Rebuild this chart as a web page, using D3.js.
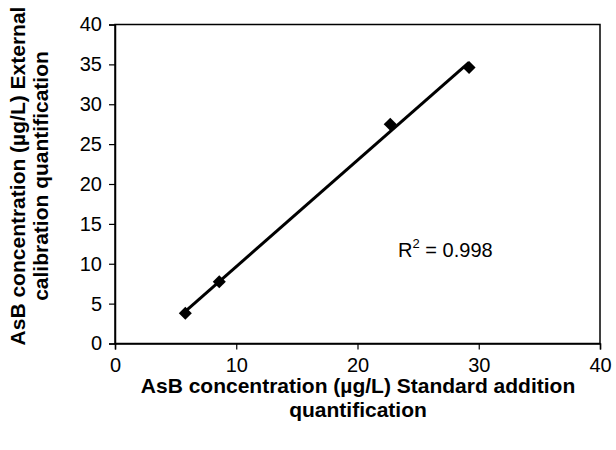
<!DOCTYPE html>
<html>
<head>
<meta charset="utf-8">
<script src="https://cdn.jsdelivr.net/npm/d3@7"></script>
<style>
  body { margin: 0; background: #fff; }
  text { font-family: "Liberation Sans", Arial, sans-serif; }
</style>
</head>
<body>
<div id="chart"></div>
<script>
// data
const standardAddition = [5.8, 8.6, 22.7, 29.2];
const externalCalib = [3.8, 7.75, 27.5, 34.6];
const xTicks = [0, 10, 20, 30, 40];
const yTicks = [0, 5, 10, 15, 20, 25, 30, 35, 40];
const r2Label = "0.998";

const width = 616, height = 450;
const margin = {top: 24.5, right: 16, bottom: 106.5, left: 115};

const svg = d3.select("#chart").append("svg")
    .attr("width", width)
    .attr("height", height);

const x = d3.scaleLinear().domain([0, 40]).range([margin.left, width - margin.right]);
const y = d3.scaleLinear().domain([0, 40]).range([height - margin.bottom, margin.top]);

// frame
svg.append("rect")
    .attr("x", x(0)).attr("y", y(40))
    .attr("width", x(40) - x(0)).attr("height", y(0) - y(40))
    .attr("fill", "none").attr("stroke", "#000").attr("stroke-width", 1.5);

// axes
const xAxis = svg.append("g")
    .attr("transform", `translate(0,${y(0)})`)
    .call(d3.axisBottom(x).tickValues(xTicks).tickSize(6).tickPadding(8));
const yAxis = svg.append("g")
    .attr("transform", `translate(${x(0)},0)`)
    .call(d3.axisLeft(y).tickValues(yTicks).tickSize(6).tickPadding(7));

[xAxis, yAxis].forEach(g => {
  g.select(".domain").attr("stroke-width", 1.5);
  g.selectAll(".tick line").attr("stroke-width", 1.2);
  g.selectAll(".tick text").attr("font-size", 20).attr("font-family", "Liberation Sans, Arial, sans-serif").attr("fill", "#000");
});

// trendline (least squares through the points)
const n = standardAddition.length;
const mx = d3.mean(standardAddition), my = d3.mean(externalCalib);
let sxy = 0, sxx = 0;
for (let i = 0; i < n; i++) {
  sxy += (standardAddition[i] - mx) * (externalCalib[i] - my);
  sxx += (standardAddition[i] - mx) ** 2;
}
const slope = sxy / sxx, intercept = my - slope * mx;
const x0 = d3.min(standardAddition), x1 = d3.max(standardAddition);

svg.append("line")
    .attr("x1", x(x0)).attr("y1", y(intercept + slope * x0))
    .attr("x2", x(x1)).attr("y2", y(intercept + slope * x1))
    .attr("stroke", "#000").attr("stroke-width", 3);

// diamond markers
svg.selectAll("path.pt")
  .data(standardAddition.map((v, i) => [v, externalCalib[i]]))
  .enter().append("path")
    .attr("class", "pt")
    .attr("d", d3.symbol().type(d3.symbolSquare).size(85))
    .attr("transform", d => `translate(${x(d[0])},${y(d[1])}) rotate(45)`)
    .attr("fill", "#000");

// R² label
const r2 = svg.append("text")
    .attr("x", x(23.35)).attr("y", y(10.85))
    .attr("font-size", 20).attr("fill", "#000");
r2.append("tspan").text("R");
r2.append("tspan").attr("font-size", 13).attr("dy", -9).text("2");
r2.append("tspan").attr("dy", 9).text(" = " + r2Label);

// axis titles
const xt = svg.append("text")
    .attr("text-anchor", "middle")
    .attr("font-size", 21).attr("font-weight", "bold").attr("fill", "#000");
xt.append("tspan").attr("x", 358).attr("y", 393).text("AsB concentration (µg/L) Standard addition");
xt.append("tspan").attr("x", 358).attr("y", 417).text("quantification");

const yt = svg.append("text")
    .attr("text-anchor", "middle")
    .attr("transform", `translate(0,176) rotate(-90)`)
    .attr("font-size", 21).attr("font-weight", "bold").attr("fill", "#000");
yt.append("tspan").attr("x", 0).attr("y", 25).text("AsB concentration (µg/L) External");
yt.append("tspan").attr("x", 0).attr("y", 48).text("calibration quantification");
</script>
</body>
</html>
